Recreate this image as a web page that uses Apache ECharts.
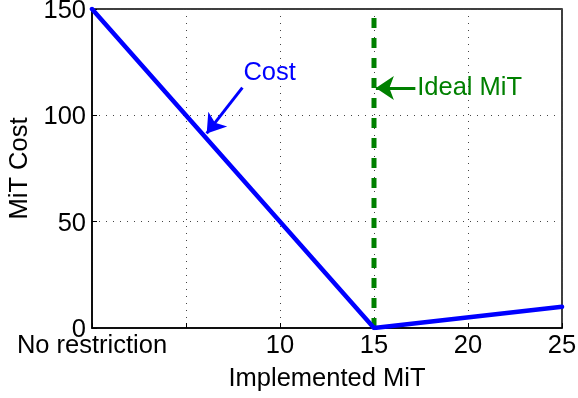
<!DOCTYPE html>
<html>
<head>
<meta charset="utf-8">
<script src="https://cdn.jsdelivr.net/npm/echarts@6/dist/echarts.min.js"></script>
<style>
  html, body { margin: 0; padding: 0; background: #fff; }
  #chart { width: 578px; height: 398px; }
</style>
</head>
<body>
<div id="chart"></div>
<script>
// Cost of implemented MiT versus the ideal MiT
const xTickValues = [0, 5, 10, 15, 20, 25];
const xTickLabels = ['No restriction', '', '10', '15', '20', '25'];
const yTickValues = [0, 50, 100, 150];
const costPoints = [[0, 150], [15, 0], [25, 10]];
const idealMiT = 15;
const idealRange = [0, 150];

// annotation anchors in data units: text position, arrow tail, arrow head
const costLabelAt = [9.45, 120];
const costArrow = [[8.0, 113], [6.1, 91.5]];
const idealLabelAt = [17.3, 112.8];
const idealArrow = [[17.2, 112.8], [15.1, 112.8]];

const FONT = "'Liberation Sans', Arial, Helvetica, sans-serif";
const FS = 25.5;

const chart = echarts.init(document.getElementById('chart'), null, { renderer: 'canvas' });

chart.setOption({
  backgroundColor: '#fff',
  animation: false,
  grid: {
    left: 92, right: 16, top: 9, bottom: 70,
    containLabel: false,
    outerBoundsMode: 'none',
    show: true, borderColor: '#000', borderWidth: 1.5, backgroundColor: 'transparent'
  },
  xAxis: {
    type: 'value',
    min: 0, max: 25, interval: 5,
    name: 'Implemented MiT',
    nameLocation: 'middle',
    nameGap: 38,
    nameTextStyle: { fontFamily: FONT, fontSize: FS, color: '#000' },
    axisLine: { show: true, lineStyle: { color: '#000', width: 1.5 } },
    axisTick: { show: true, inside: true, length: 5, lineStyle: { color: '#000' } },
    axisLabel: {
      fontFamily: FONT, fontSize: FS, color: '#000', margin: 5,
      formatter: function (v) {
        const i = xTickValues.indexOf(v);
        return i >= 0 ? xTickLabels[i] : '';
      }
    },
    splitLine: { show: true, lineStyle: { color: '#444', width: 1, type: [1, 6] } }
  },
  yAxis: {
    type: 'value',
    min: 0, max: 150, interval: 50,
    name: 'MiT Cost',
    nameLocation: 'middle',
    nameGap: 59,
    nameTextStyle: { fontFamily: FONT, fontSize: FS, color: '#000' },
    axisLine: { show: true, lineStyle: { color: '#000', width: 1.5 } },
    axisTick: { show: true, inside: true, length: 5, lineStyle: { color: '#000' } },
    axisLabel: {
      color: '#000', margin: 6,
      formatter: function (v) {
        return yTickValues.indexOf(v) >= 0 ? '{t|' + v + '}' : '';
      },
      rich: {
        t: { fontFamily: FONT, fontSize: FS, color: '#000', padding: [4, 0, 0, 0] }
      }
    },
    splitLine: { show: true, lineStyle: { color: '#444', width: 1, type: [1, 6] } }
  },
  series: [
    {
      name: 'Ideal MiT',
      type: 'line',
      data: idealRange.map(y => [idealMiT, y]),
      symbol: 'none',
      lineStyle: { color: '#008000', width: 5, type: [10, 10] },
      z: 3
    },
    {
      name: 'Cost',
      type: 'line',
      data: costPoints,
      symbol: 'none',
      lineStyle: { color: '#0000ff', width: 4.5, cap: 'round', join: 'round' },
      z: 4
    },
    {
      name: 'arrows',
      type: 'lines',
      coordinateSystem: 'cartesian2d',
      symbol: ['none', 'arrow'],
      symbolSize: 18,
      data: [
        { coords: costArrow, lineStyle: { color: '#0000ff' } },
        { coords: idealArrow, lineStyle: { color: '#008000' } }
      ],
      lineStyle: { width: 3, opacity: 1 },
      z: 5
    },
    {
      name: 'labels',
      type: 'scatter',
      symbolSize: 0,
      silent: true,
      itemStyle: { opacity: 1 },
      data: [
        { value: costLabelAt, label: { formatter: 'Cost', color: '#0000ff', position: 'inside' } },
        { value: idealLabelAt, label: { formatter: 'Ideal MiT', color: '#008000', position: 'right', distance: 0 } }
      ],
      label: { show: true, fontFamily: FONT, fontSize: FS, opacity: 1 },
      z: 6
    }
  ]
});
</script>
</body>
</html>
